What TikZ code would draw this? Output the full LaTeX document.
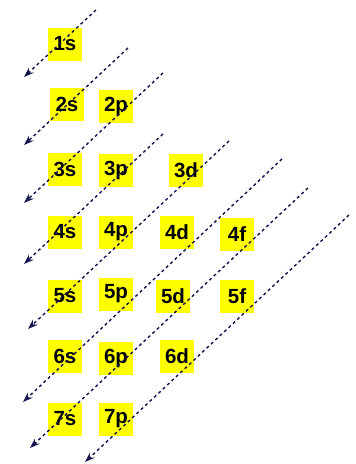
\documentclass[tikz,border=0pt]{standalone}
\usepackage{fontspec}
\setmainfont{Liberation Sans}
\usetikzlibrary{arrows.meta}
\definecolor{orb}{HTML}{FFFF00}
\definecolor{arr}{HTML}{14144F}
\begin{document}
\begin{tikzpicture}[x=1pt,y=-1pt,
  orbital/.style={fill=orb, minimum width=34pt, minimum height=33pt, inner sep=0pt,
    font=\fontsize{20.5}{20.5}\selectfont\bfseries},
  diag/.style={draw=arr, line width=1.4pt, dash pattern=on 3pt off 3pt,
    -{Stealth[length=10pt,width=7pt]}}]
\useasboundingbox (0,0) rectangle (356,464);
% orbitals
\node[orbital] (s1) at (65,44) {1s};
\node[orbital] (s2) at (67,104) {2s};
\node[orbital] (p2) at (116,106) {2p};
\node[orbital] (s3) at (65,169) {3s};
\node[orbital] (p3) at (116,170) {3p};
\node[orbital] (d3) at (186,170) {3d};
\node[orbital] (s4) at (65,232) {4s};
\node[orbital] (p4) at (116,232) {4p};
\node[orbital] (d4) at (177,232) {4d};
\node[orbital] (f4) at (237,234) {4f};
\node[orbital] (s5) at (65,296) {5s};
\node[orbital] (p5) at (116,294) {5p};
\node[orbital] (d5) at (173,296) {5d};
\node[orbital] (f5) at (237,296) {5f};
\node[orbital] (s6) at (65,356) {6s};
\node[orbital] (p6) at (116,358) {6p};
\node[orbital] (d6) at (177,356) {6d};
\node[orbital] (s7) at (65,419) {7s};
\node[orbital] (p7) at (116,419) {7p};
% diagonal arrows
\coordinate (a1) at (96,10);   \coordinate (b1) at (24,77);
\coordinate (a2) at (128,48);  \coordinate (b2) at (24,145);
\coordinate (a3) at (163,73);  \coordinate (b3) at (24,203);
\coordinate (a4) at (163,134); \coordinate (b4) at (24,264);
\coordinate (a5) at (229,141); \coordinate (b5) at (28,329);
\coordinate (a6) at (282,159); \coordinate (b6) at (23,402);
\coordinate (a7) at (308,188); \coordinate (b7) at (30,448);
\coordinate (a8) at (349,215); \coordinate (b8) at (85,462);
\foreach \i in {1,...,8} \draw[diag] (a\i) -- (b\i);
\end{tikzpicture}
\end{document}
